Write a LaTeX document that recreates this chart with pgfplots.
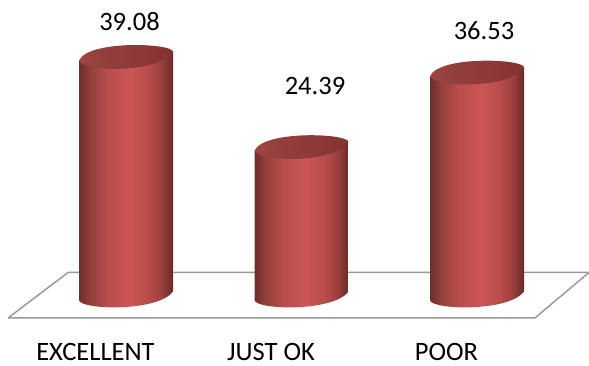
\documentclass[border=0pt]{standalone}
\usepackage{fontspec}
\setmainfont{Carlito}
\usepackage{pgfplots}
\usepackage{pgfplotstable}
\pgfplotsset{compat=1.18}
\definecolor{floorline}{HTML}{999999}
\definecolor{cyle}{HTML}{6E2E2C}
\definecolor{cylb}{HTML}{93403E}
\definecolor{cylc}{HTML}{B84D4B}
\definecolor{cyld}{HTML}{CC5654}
\definecolor{cylf}{HTML}{9A3F3D}
\definecolor{cylg}{HTML}{6A2A28}
\definecolor{ctopa}{HTML}{A04543}
\definecolor{ctopb}{HTML}{93403E}
\definecolor{ctopc}{HTML}{8C3836}
\definecolor{ctopd}{HTML}{823331}
\pgfdeclarehorizontalshading{cylbody}{100bp}{
  color(0bp)=(cyle); color(25bp)=(cyle); color(31bp)=(cylb); color(40bp)=(cylc); color(52bp)=(cyld);
  color(62bp)=(cylc); color(69bp)=(cylf); color(75bp)=(cylg); color(100bp)=(cylg)}
\pgfdeclarehorizontalshading{cyltop}{100bp}{
  color(0bp)=(ctopa); color(25bp)=(ctopa); color(35bp)=(ctopb); color(60bp)=(ctopc); color(75bp)=(ctopd); color(100bp)=(ctopd)}
\pgfdeclareplotmark{cylinder}{%
  \pgfmathsetmacro\H{\val*6.14}%
  \begin{scope}[x=0.75pt,y=0.75pt]
    \path[draw=none, shading=cylbody] (-47,-4.5) -- (-47,-\H-4.5)
      .. controls (-44,-\H-14) and (32,-\H-16) .. (47,-\H+4.5)
      -- (47,4.5) -- cycle;
    \path[draw=none, shading=cyltop] (-47,-4.5) .. controls (-44,-15) and (30,-19) .. (47,4.5)
      .. controls (45,13) and (-38,16) .. (-47,-4.5) -- cycle;
  \end{scope}
}
\pgfplotstableread{
x v dx dy
0 39.08 3.5 34
1 24.39 13.5 60
2 36.53 7 41.5
}\cyldata
\begin{document}
\begin{tikzpicture}
\useasboundingbox (0,0) rectangle (441.75pt,273.75pt);
\begin{axis}[
  at={(0,0)}, anchor=south west,
  scale only axis, width=441.75pt, height=273.75pt,
  xmin=-0.718, xmax=2.638, ymin=-11.24, ymax=48.2,
  clip=false,
  axis line style={draw=none},
  ytick=\empty,
  xtick={0,1,2},
  xticklabels={EXCELLENT,JUST OK,POOR},
  major tick length=0pt,
  tick style={draw=none},
  xticklabel style={font=\fontsize{19.9}{22}\selectfont, anchor=base, xshift=-22.9pt, yshift=3.75pt},
]
\addplot[draw=floorline, line width=1.1pt, mark=none] coordinates {
  (-0.672,-3.58) (2.330,-3.58) (2.638,3.83) (-0.330,3.83) (-0.672,-3.58)};
\addplot[only marks, draw=none, mark=cylinder,
  visualization depends on={\thisrow{v} \as \val},
  visualization depends on={\thisrow{dx} \as \ldx},
  visualization depends on={\thisrow{dy} \as \ldy},
  nodes near coords,
  point meta=\thisrow{v},
  every node near coord/.append style={
    anchor=center, text=black,
    font=\fontsize{19.9}{22}\selectfont,
    xshift=\ldx*0.75pt, yshift=\ldy*0.75pt,
    /pgf/number format/.cd, fixed, fixed zerofill, precision=2, assume math mode=true},
] table[x=x,y=v] {\cyldata};
\end{axis}
\end{tikzpicture}
\end{document}
